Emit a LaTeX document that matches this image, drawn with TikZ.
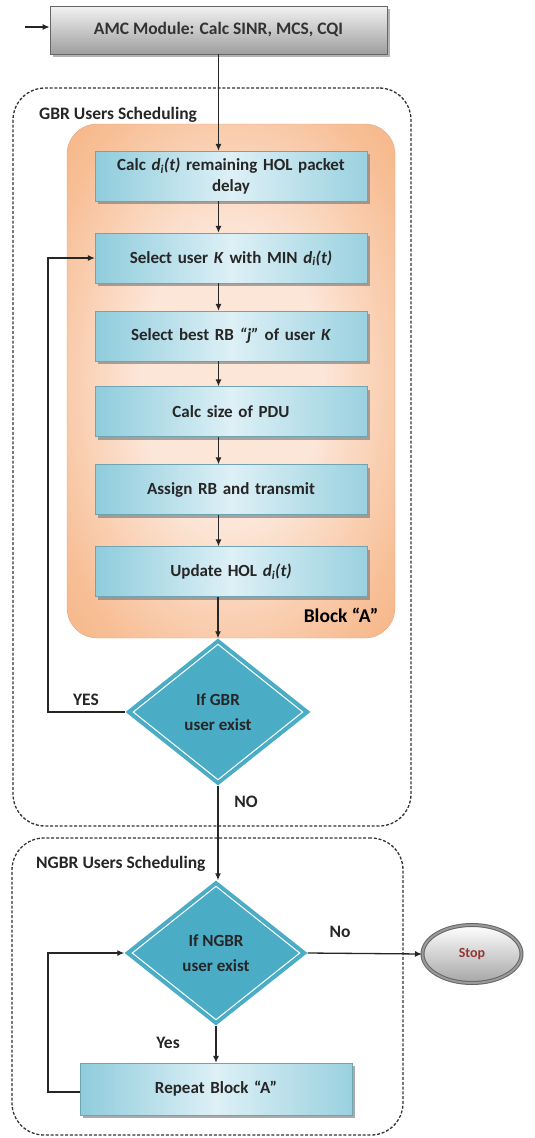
\documentclass[tikz,border=0pt]{standalone}
\usepackage{fontspec}
\setmainfont{Carlito}
\usetikzlibrary{shapes.geometric,arrows.meta,shadows,calc}
\definecolor{boxblueL}{HTML}{DDF0F6}
\definecolor{boxblueD}{HTML}{8FCCDC}
\definecolor{diamondblue}{HTML}{4BACC6}
\definecolor{orangeO}{HTML}{F6B281}
\definecolor{orangeI}{HTML}{FCE6D8}
\definecolor{stopred}{HTML}{943634}
\pgfdeclareradialshading{orangeglow}{\pgfpoint{0bp}{0bp}}{%
  color(0bp)=(orangeI); color(14bp)=(orangeI); color(30bp)=(orangeO!75!orangeI);
  color(38bp)=(orangeO); color(50bp)=(orangeO)}
\tikzset{
  arr/.style={draw=black!85, line width=1.3pt, -{Latex[length=7pt,width=6pt]}},
  bluebox/.style={rectangle, draw=boxblueD!80!black, line width=0.3pt,
    left color=boxblueD, right color=boxblueD!90, middle color=boxblueL,
    minimum width=272pt, minimum height=50pt, align=center, text width=258pt,
    font=\fontsize{17}{21}\selectfont\bfseries, text=black!85,
    drop shadow={shadow xshift=2.5pt, shadow yshift=-3pt, fill=black!55, opacity=0.6}},
  graybox/.style={rectangle, draw=black!60, line width=0.7pt,
    top color=black!5, bottom color=black!38,
    font=\fontsize{17.5}{21}\selectfont\bfseries, text=black!80,
    drop shadow={shadow xshift=2.5pt, shadow yshift=-3pt, fill=black!50, opacity=0.6}},
  groupbox/.style={rectangle, draw=black!80, dash pattern=on 3pt off 1.8pt,
    line width=1.3pt, rounded corners=32pt},
  orangebox/.style={rectangle, rounded corners=30pt, shading=orangeglow,
    draw=orangeO!90!black, line width=0.3pt},
  decision/.style={diamond, fill=diamondblue, inner sep=0pt, align=center,
    font=\fontsize{17}{25}\selectfont\bfseries, text=black!85},
  lbl/.style={font=\fontsize{17.5}{21}\selectfont\bfseries, text=black!85, inner sep=0pt},
}
\newcommand{\dit}{\textit{d\textsubscript{i}(t)}}
\begin{document}
\begin{tikzpicture}[x=1pt,y=-1pt]
\useasboundingbox (0,0) rectangle (535,1138);
% group containers
\node[groupbox, minimum width=398pt, minimum height=738pt] (gbr) at (212,457) {};
\node[lbl, anchor=west] (gbrlbl) at (39,115) {GBR Users Scheduling};
\node[groupbox, minimum width=391pt, minimum height=297pt] (ngbr) at (207.5,986.5) {};
\node[lbl, anchor=west] (ngbrlbl) at (36,864) {NGBR Users Scheduling};
\node[orangebox, minimum width=328pt, minimum height=514pt] (blockA) at (231,381) {};
\node[lbl, font=\fontsize{19.5}{21}\selectfont\bfseries, text=black] (blockAlbl) at (341,615) {Block “A”};
% top box
\node[graybox, minimum width=337pt, minimum height=48pt] (amc) at (218.5,30) {AMC Module: Calc SINR, MCS, CQI};
\coordinate (in) at (25,27);
% blue boxes
\node[bluebox] (b1) at (231,176) {Calc \dit{} remaining HOL packet\\delay};
\node[bluebox] (b2) at (231,258) {Select user \textit{K} with MIN \dit};
\node[bluebox] (b3) at (231,336) {Select best RB \textit{“j”} of user \textit{K}};
\node[bluebox] (b4) at (231,411.5) {Calc size of PDU};
\node[bluebox] (b5) at (231,489.5) {Assign RB and transmit};
\node[bluebox] (b6) at (231,571.5) {Update HOL \dit};
% decisions
\node[decision, minimum width=185pt, minimum height=147pt] (d1) at (218,712) {If GBR\\user exist};
\node[decision, minimum width=183pt, minimum height=145pt] (d2) at (216,953) {If NGBR\\user exist};
\foreach \d in {d1,d2}{
  \draw[white, line width=1pt] ($(\d.north)+(0,6)$) -- ($(\d.east)+(-8,0)$) -- ($(\d.south)+(0,-6)$) -- ($(\d.west)+(8,0)$) -- cycle;
}
% stop
\node[ellipse, minimum width=99pt, minimum height=58pt, top color=white, bottom color=black!35,
  draw=black!60, line width=1pt, double=black!40, double distance=2pt,
  font=\fontsize{14}{16}\selectfont\bfseries, text=stopred] (stop) at (472,954) {Stop};
% repeat
\node[bluebox, minimum height=52pt] (rep) at (216,1089) {Repeat Block “A”};
% loop coordinate
\coordinate (lx) at (48,0);
% labels
\node[lbl] (yes1) at (86,700) {YES};
\node[lbl] (no1) at (246,802) {NO};
\node[lbl] (no2) at (340,932) {No};
\node[lbl] (yes2) at (168,1043) {Yes};
% connectors
\draw[arr] (in) -- (amc.west |- in);
\draw[arr] (amc.south) -- (amc.south |- b1.north);
\draw[arr] (b1.south -| amc.south) -- (b2.north -| amc.south);
\draw[arr] (b2.south -| amc.south) -- (b3.north -| amc.south);
\draw[arr] (b3.south -| amc.south) -- (b4.north -| amc.south);
\draw[arr] (b4.south -| amc.south) -- (b5.north -| amc.south);
\draw[arr] (b5.south -| amc.south) -- (b6.north -| amc.south);
\draw[arr] (b6.south -| d1.north) -- (d1.north);
\draw[arr] (d1.west) -- (d1.west -| lx) |- (b2.west);
\draw[arr] (d1.south) -- (d1.south |- d2.north);
\draw[arr] (d2.east) -- (stop.west);
\draw[arr] (d2.south) -- (d2.south |- rep.north);
\draw[arr] ($(rep.west)+(0,3)$) -- ($(rep.west -| lx)+(0,3)$) |- (d2.west);
\end{tikzpicture}
\end{document}
